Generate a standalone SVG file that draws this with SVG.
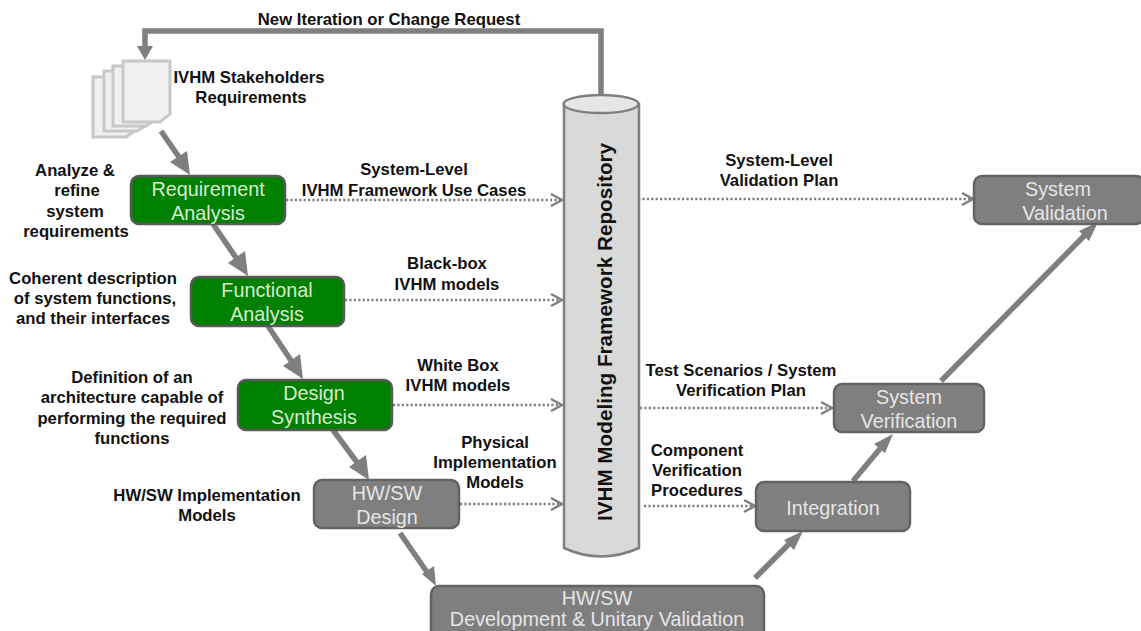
<svg xmlns="http://www.w3.org/2000/svg" width="1141" height="631" viewBox="0 0 1141 631">
<style>
text{font-family:"Liberation Sans",Arial,sans-serif}
.l{font-size:16.7px;font-weight:700;fill:#111;text-anchor:middle}
.n{font-size:19.8px;text-anchor:middle}
.g rect{fill:#008000;stroke:#595959;stroke-width:2.5}
.g text{fill:#d8ecd0}
.y rect{fill:#7f7f7f;stroke:#636363;stroke-width:2.5}
.y text{fill:#e6e6e6}
.a{fill:none;stroke:#7f7f7f;stroke-width:5.5}
.h{fill:#7f7f7f}
.d{fill:none;stroke:#7f7f7f;stroke-width:2.5;stroke-dasharray:2.2 2.2}
.o{fill:none;stroke:#7f7f7f;stroke-width:2.5}
.p{fill:#f0f0f0;stroke:#c8c8c8;stroke-width:3}
</style>
<rect width="1141" height="631" fill="#fff"/>
<g id="stakeholders">
<path class="p" d="M93 77H136V130L126 137H93Z"/>
<path class="p" d="M104 71H147V125L137 131H104Z"/>
<path class="p" d="M113 66H156V119L146 126H113Z"/>
<path class="p" d="M123 61H170V114L160 122H123Z"/>
<text class="l" x="249" y="83">IVHM Stakeholders</text>
<text class="l" x="251" y="103">Requirements</text>
</g>
<g id="repository">
<path d="M564 104V548Q601 565 639 548V104Z" fill="#d9d9d9" stroke="#7f7f7f" stroke-width="2.500"/>
<ellipse cx="601" cy="104" rx="37.500" ry="9" fill="#e6e6e6" stroke="#7f7f7f" stroke-width="2.500"/>
<text transform="translate(612 332) rotate(-90)" text-anchor="middle" font-size="20.700" font-weight="700" fill="#111">IVHM Modeling Framework Repository</text>
</g>
<g id="connectors">
<path class="a" d="M601 95V31H145V48"/>
<path class="h" d="M137 46H153L145 60Z"/>
<path class="a" d="M161 131L183 163"/>
<path class="h" d="M190 175L170 162L187 151Z"/>
<path class="a" d="M213 224L241 265"/>
<path class="h" d="M248 276L228 263L245 251Z"/>
<path class="a" d="M268 326L296 368"/>
<path class="h" d="M303 379L283 366L300 354Z"/>
<path class="a" d="M333 430L362 469"/>
<path class="h" d="M369 480L349 467L366 455Z"/>
<path class="a" d="M400 533L429 575"/>
<path class="h" d="M436 586L422 574L434 566Z"/>
<path class="a" d="M755 578L793 540"/>
<path class="h" d="M803 531L794 550L784 540Z"/>
<path class="a" d="M853 481L884 444"/>
<path class="h" d="M893 434L885 453L874 444Z"/>
<path class="a" d="M941 381L1087 233"/>
<path class="h" d="M1098 222L1089 241L1079 231Z"/>
<path class="d" d="M286 200H560"/><path class="o" d="M551 194L562 200L551 206"/>
<path class="d" d="M345 300H560"/><path class="o" d="M551 294L562 300L551 306"/>
<path class="d" d="M393 405H560"/><path class="o" d="M551 399L562 405L551 411"/>
<path class="d" d="M460 504H560"/><path class="o" d="M551 498L562 504L551 510"/>
<path class="d" d="M638 199H971"/><path class="o" d="M962 193L973 199L962 205"/>
<path class="d" d="M640 408H830"/><path class="o" d="M821 402L832 408L821 414"/>
<path class="d" d="M644 506H753"/><path class="o" d="M744 500L755 506L744 512"/>
</g>
<g id="requirement-analysis" class="g"><rect x="131" y="176" width="154" height="48" rx="8"/><text class="n" x="208" y="196">Requirement</text><text class="n" x="208" y="220">Analysis</text></g>
<g id="functional-analysis" class="g"><rect x="191" y="277" width="153" height="49" rx="8"/><text class="n" x="267" y="297">Functional</text><text class="n" x="267" y="321">Analysis</text></g>
<g id="design-synthesis" class="g"><rect x="238" y="380" width="154" height="50" rx="8"/><text class="n" x="314" y="400">Design</text><text class="n" x="314" y="424">Synthesis</text></g>
<g id="hw-sw-design" class="y"><rect x="314" y="480" width="145" height="48" rx="8"/><text class="n" x="387" y="500">HW/SW</text><text class="n" x="387" y="524">Design</text></g>
<g id="development" class="y"><rect x="431" y="586" width="333" height="60" rx="8"/><text class="n" x="597" y="605">HW/SW</text><text class="n" x="597" y="626">Development &amp; Unitary Validation</text></g>
<g id="integration" class="y"><rect x="756" y="482" width="154" height="49" rx="8"/><text class="n" x="833" y="515">Integration</text></g>
<g id="system-verification" class="y"><rect x="834" y="384" width="150" height="48" rx="8"/><text class="n" x="909" y="404">System</text><text class="n" x="909" y="428">Verification</text></g>
<g id="system-validation" class="y"><rect x="974" y="176" width="170" height="48" rx="8"/><text class="n" x="1058" y="196">System</text><text class="n" x="1065" y="220">Validation</text></g>
<g id="labels">
<text class="l" x="389" y="25">New Iteration or Change Request</text>
<text class="l" x="75" y="176">Analyze &amp;</text><text class="l" x="77" y="196">refine</text><text class="l" x="75" y="217">system</text><text class="l" x="76" y="237">requirements</text>
<text class="l" x="93" y="284">Coherent description</text><text class="l" x="95" y="304">of system functions,</text><text class="l" x="93" y="324">and their interfaces</text>
<text class="l" x="132" y="383">Definition of an</text><text class="l" x="132" y="403">architecture capable of</text><text class="l" x="132" y="424">performing the required</text><text class="l" x="132" y="444">functions</text>
<text class="l" x="207" y="501">HW/SW Implementation</text><text class="l" x="207" y="521">Models</text>
<text class="l" x="414" y="175">System-Level</text><text class="l" x="414" y="196">IVHM Framework Use Cases</text>
<text class="l" x="447" y="269">Black-box</text><text class="l" x="447" y="290">IVHM models</text>
<text class="l" x="458" y="371">White Box</text><text class="l" x="458" y="391">IVHM models</text>
<text class="l" x="495" y="448">Physical</text><text class="l" x="495" y="468">Implementation</text><text class="l" x="495" y="488">Models</text>
<text class="l" x="779" y="166">System-Level</text><text class="l" x="779" y="186">Validation Plan</text>
<text class="l" x="741" y="376">Test Scenarios / System</text><text class="l" x="741" y="396">Verification Plan</text>
<text class="l" x="697" y="456">Component</text><text class="l" x="697" y="476">Verification</text><text class="l" x="697" y="496">Procedures</text>
</g>
</svg>
